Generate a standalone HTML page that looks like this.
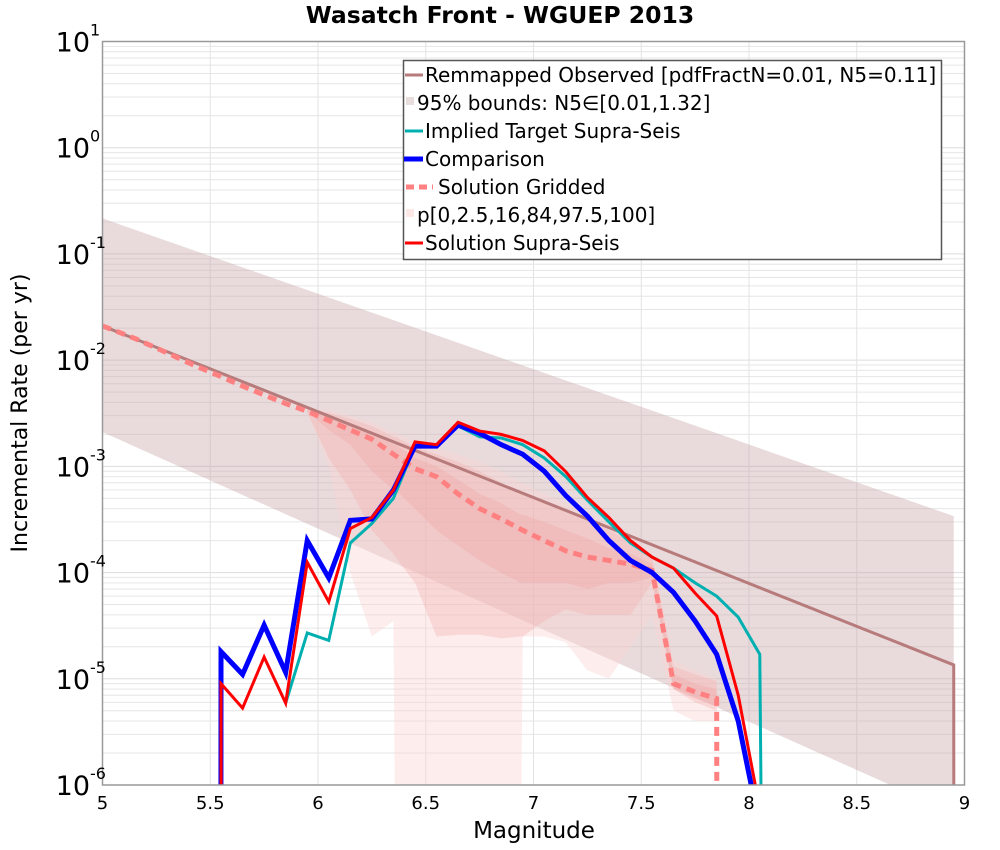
<!DOCTYPE html>
<html><head><meta charset="utf-8"><style>
html,body{margin:0;padding:0;background:#fff;overflow:hidden;width:1000px;height:850px;}
svg{display:block;font-family:"DejaVu Sans","Liberation Sans",sans-serif;overflow:hidden;}
</style></head><body>
<svg id="chart" width="1000" height="850" viewBox="0 0 1000 850">
<text x="500" y="23" text-anchor="middle" font-size="23.5" font-weight="bold">Wasatch Front - WGUEP 2013</text>
<g id="grid"></g>
<g id="fills"></g>
<g id="lines"></g>
<rect x="102.5" y="41.5" width="862" height="743.5" fill="none" stroke="#999" stroke-width="1.5"/>
<g id="axes"></g>
<text x="534" y="838" text-anchor="middle" font-size="23">Magnitude</text>
<text transform="translate(27,413) rotate(-90)" text-anchor="middle" font-size="22">Incremental Rate (per yr)</text>
<g>
<rect x="403.5" y="60.5" width="538" height="199" fill="#fff" stroke="#555" stroke-width="1.5"/>
<g font-size="20">
<g><line x1="405" y1="75" x2="423" y2="75" stroke="#b77b7b" stroke-width="3"/><text x="425" y="82">Remmapped Observed [pdfFractN=0.01, N5=0.11]</text></g>
<g><rect x="406" y="97" width="8" height="8" fill="#e8dcdc"/><text x="417" y="110">95% bounds: N5∈[0.01,1.32]</text></g>
<g><line x1="405" y1="131" x2="423" y2="131" stroke="#00b0b0" stroke-width="3"/><text x="425" y="138">Implied Target Supra-Seis</text></g>
<g><line x1="404" y1="159" x2="423" y2="159" stroke="#0000ff" stroke-width="5"/><text x="425" y="166">Comparison</text></g>
<g><line x1="406" y1="187" x2="433" y2="187" stroke="#ff8080" stroke-width="5" stroke-dasharray="8,5"/><text x="438" y="194">Solution Gridded</text></g>
<g><rect x="406" y="209" width="8" height="8" fill="#fde8e8"/><text x="417" y="222">p[0,2.5,16,84,97.5,100]</text></g>
<g><line x1="405" y1="243" x2="423" y2="243" stroke="#ff0000" stroke-width="3"/><text x="425" y="250">Solution Supra-Seis</text></g>
</g></g>
</svg>
<script>
// ---- data ----
const xTicks = [5,5.5,6,6.5,7,7.5,8,8.5,9];
const xTickLabels = ["5","5.5","6","6.5","7","7.5","8","8.5","9"];
const yDecades = [1,0,-1,-2,-3,-4,-5,-6];
const obsM = [5.0, 8.95];
const obsRate = [2.1e-2, 1.35e-5];
const boundM = [5.0, 8.95];
const boundUpper = [0.216, 3.4e-4];
const boundLower = [2.1e-3, 5.4e-7];
const binM = [5.55,5.65,5.75,5.85,5.95,6.05,6.15,6.25,6.35,6.45,6.55,6.65,6.75,6.85,6.95,7.05,7.15,7.25,7.35,7.45,7.55,7.65,7.75,7.85,7.95,8.05];
const comparison = [1.8e-5,1.1e-5,3.2e-5,1.15e-5,2.0e-4,8.9e-5,3.1e-4,3.2e-4,6e-4,1.55e-3,1.55e-3,2.45e-3,2.05e-3,1.6e-3,1.3e-3,9e-4,5.3e-4,3.4e-4,2.0e-4,1.3e-4,1.0e-4,6.5e-5,3.5e-5,1.7e-5,4e-6,4e-7];
const supraSeis = [9e-6,5.3e-6,1.6e-5,5.9e-6,1.25e-4,5.3e-5,2.6e-4,3.3e-4,6e-4,1.7e-3,1.6e-3,2.6e-3,2.15e-3,2.0e-3,1.75e-3,1.4e-3,8.9e-4,5.1e-4,3.3e-4,2.0e-4,1.4e-4,1.1e-4,6.4e-5,3.9e-5,7e-6,6e-7];
const impliedM = [5.85,5.95,6.05,6.15,6.25,6.35,6.45,6.55,6.65,6.75,6.85,6.95,7.05,7.15,7.25,7.35,7.45,7.55,7.65,7.75,7.85,7.95,8.05,8.06];
const implied = [5.9e-6,2.7e-5,2.3e-5,1.9e-4,2.9e-4,5.0e-4,1.55e-3,1.55e-3,2.4e-3,1.9e-3,1.85e-3,1.6e-3,1.2e-3,8e-4,4.8e-4,3.0e-4,1.9e-4,1.4e-4,1.1e-4,8e-5,6e-5,3.8e-5,1.7e-5,1e-7];
const gridM = [5.0,5.15,5.25,5.35,5.45,5.55,5.65,5.75,5.85,5.95,6.05,6.15,6.25,6.35,6.45,6.55,6.65,6.75,6.85,6.95,7.05,7.15,7.25,7.35,7.45,7.55,7.65,7.75,7.85,7.851];
const gridded = [2.1e-2,1.6e-2,1.3e-2,1.05e-2,8.5e-3,7e-3,5.7e-3,4.7e-3,3.9e-3,3.3e-3,2.7e-3,2.2e-3,1.8e-3,1.3e-3,9.5e-4,8e-4,5.5e-4,4e-4,3.2e-4,2.5e-4,2e-4,1.6e-4,1.4e-4,1.3e-4,1.2e-4,1.05e-4,9e-6,7.5e-6,6.5e-6,1e-7];
const pM = [5.95,6.05,6.15,6.25,6.35,6.36,6.45,6.55,6.65,6.75,6.85,6.94,6.95,7.05,7.15,7.25,7.35,7.45,7.55,7.65,7.75,7.85];
const p0 = [3.2e-3,1.0e-3,1e-4,2.5e-5,3.5e-5,1e-7,1e-7,1e-7,1e-7,1e-7,1e-7,1e-7,2.5e-5,2.5e-5,2.2e-5,1.2e-5,1.0e-5,2e-5,4e-5,5e-6,4e-6,4e-6];
const p2_5 = [3.2e-3,1.2e-3,6e-4,2.5e-4,1.5e-4,1.4e-4,8e-5,2.5e-5,2.6e-5,2.6e-5,2.4e-5,2.5e-5,2.5e-5,3.5e-5,4.5e-5,4e-5,4e-5,4e-5,8e-5,8e-6,6e-6,5e-6];
const p16 = [3.3e-3,2.2e-3,1.6e-3,9e-4,6e-4,6e-4,4e-4,2.5e-4,1.8e-4,1.3e-4,1e-4,8e-5,8e-5,8e-5,8e-5,7e-5,8e-5,8e-5,9e-5,8e-6,6.5e-6,5.5e-6];
const p84 = [3.4e-3,3.0e-3,2.5e-3,2.1e-3,1.6e-3,1.6e-3,1.2e-3,1.0e-3,7.5e-4,5.5e-4,4.5e-4,3.5e-4,3.5e-4,3.0e-4,2.5e-4,2.1e-4,1.7e-4,1.5e-4,1.2e-4,1.1e-5,9e-6,8e-6];
const p97_5 = [3.4e-3,3.2e-3,2.8e-3,2.4e-3,1.9e-3,1.9e-3,1.5e-3,1.3e-3,1.1e-3,9e-4,7e-4,5.5e-4,5.5e-4,4.5e-4,3.8e-4,3.1e-4,2.5e-4,2.0e-4,1.4e-4,1.3e-5,1.1e-5,9.5e-6];
const p100 = [3.5e-3,3.4e-3,3.0e-3,2.6e-3,2.1e-3,2.1e-3,1.7e-3,1.5e-3,1.3e-3,1.1e-3,9e-4,7e-4,7e-4,5.5e-4,4.5e-4,3.6e-4,2.9e-4,2.3e-4,1.5e-4,1.5e-5,1.2e-5,1.0e-5];

// ---- scales ----
const X0=102.5, X1=964.5, Y0=41.5, Y1=785;
const xs = m => X0 + (m-5)/4*(X1-X0);
const ys = v => { let l = Math.log10(Math.max(v,1e-8)); return Y0 + (1-l)/7*(Y1-Y0); };
const NS="http://www.w3.org/2000/svg";
function mk(tag, parent){ const e=document.createElementNS(NS,tag); parent.appendChild(e); return e; }
const grid=document.getElementById('grid'), fills=document.getElementById('fills'), lines=document.getElementById('lines'), axes=document.getElementById('axes');

function clipPoly(pts){
  const out=[]; const n=pts.length;
  for(let i=0;i<n;i++){
    const a=pts[i], b=pts[(i+1)%n];
    const ain=a[1]<=Y1, bin=b[1]<=Y1;
    if(ain) out.push(a);
    if(ain!==bin){ const t=(Y1-a[1])/(b[1]-a[1]); out.push([a[0]+t*(b[0]-a[0]),Y1]); }
  }
  return out;
}
function clipLine(pts){
  const out=[];
  for(let i=0;i<pts.length;i++){
    const a=pts[i];
    if(a[1]<=Y1) out.push(a);
    if(i<pts.length-1){
      const b=pts[i+1];
      if((a[1]<=Y1)!==(b[1]<=Y1)){ const t=(Y1-a[1])/(b[1]-a[1]); out.push([a[0]+t*(b[0]-a[0]),Y1]); }
    }
  }
  return out;
}

for (let d=-6; d<1; d++) for (let k=2;k<=9;k++){
  const y=ys(k*Math.pow(10,d));
  const l=mk('line',grid); l.setAttribute('x1',X0); l.setAttribute('x2',X1); l.setAttribute('y1',y); l.setAttribute('y2',y); l.setAttribute('stroke','#e6e6e6'); l.setAttribute('stroke-width','1');
  
  
}
yDecades.forEach(d=>{
  const y=ys(Math.pow(10,d));
  const l=mk('line',grid); l.setAttribute('x1',X0); l.setAttribute('x2',X1); l.setAttribute('y1',y); l.setAttribute('y2',y); l.setAttribute('stroke','#ddd');
  
  
  const t=mk('text',axes); t.setAttribute('x',90); t.setAttribute('y',y+10); t.setAttribute('text-anchor','end'); t.setAttribute('font-size','27');
  t.textContent='10';
  
  
  const s=mk('text',axes); s.setAttribute('x',90); s.setAttribute('y',y-6); s.setAttribute('font-size','16'); s.textContent=String(d);
  
  
});
xTicks.forEach((m,i)=>{
  const x=xs(m);
  const l=mk('line',grid); l.setAttribute('x1',x); l.setAttribute('x2',x); l.setAttribute('y1',Y0); l.setAttribute('y2',Y1); l.setAttribute('stroke','#e3e3e3');
  
  
  const t=mk('text',axes); t.setAttribute('x',x); t.setAttribute('y',809); t.setAttribute('text-anchor','middle'); t.setAttribute('font-size','18');
  t.textContent=xTickLabels[i];
  
  
});

function band(M, lo, hi, fill, op, name){
  let pts=[]; M.forEach((m,i)=>pts.push([xs(m),ys(hi[i])]));
  for(let i=M.length-1;i>=0;i--) pts.push([xs(M[i]),ys(lo[i])]);
  pts=clipPoly(pts);
  const p=mk('polygon',fills); p.setAttribute('points',pts.map(q=>q[0].toFixed(2)+','+q[1].toFixed(2)).join(' ')); p.setAttribute('fill',fill); p.setAttribute('fill-opacity',op);
  
  
}
function line(M, V, color, w, name, dash){
  let pts=M.map((m,i)=>[xs(m),ys(V[i])]);
  pts=clipLine(pts);
  const p=mk('polyline',lines); p.setAttribute('points',pts.map(q=>q[0].toFixed(2)+','+q[1].toFixed(2)).join(' '));
  p.setAttribute('fill','none'); p.setAttribute('stroke',color); p.setAttribute('stroke-width',w); p.setAttribute('stroke-linejoin','miter');
  if(dash) p.setAttribute('stroke-dasharray',dash);
  
  
}
band(boundM, boundLower, boundUpper, '#c9a5a8', 0.4, 'bounds-band');
band(pM, p0, p100, '#fbd3d3', 0.4, 'percentile-band-0-100');
band(pM, p2_5, p97_5, '#f4b0b0', 0.35, 'percentile-band-2.5-97.5');
band(pM, p16, p84, '#f0a0a0', 0.3, 'percentile-band-16-84');

const obsVM=[...obsM, 8.951], obsVV=[...obsRate, 1e-8];
line(obsVM, obsVV, '#b77b7b', 3, 'observed-line');
line(gridM, gridded, '#ff8080', 5, 'gridded-line', '9,6');
line(impliedM, implied, '#00b0b0', 3, 'implied-line');
line([5.549,...binM], [1e-8,...comparison], '#0000ff', 5, 'comparison-line');
line([5.551,...binM], [1e-8,...supraSeis], '#ff0000', 3, 'supra-seis-line');
</script>
</body></html>
